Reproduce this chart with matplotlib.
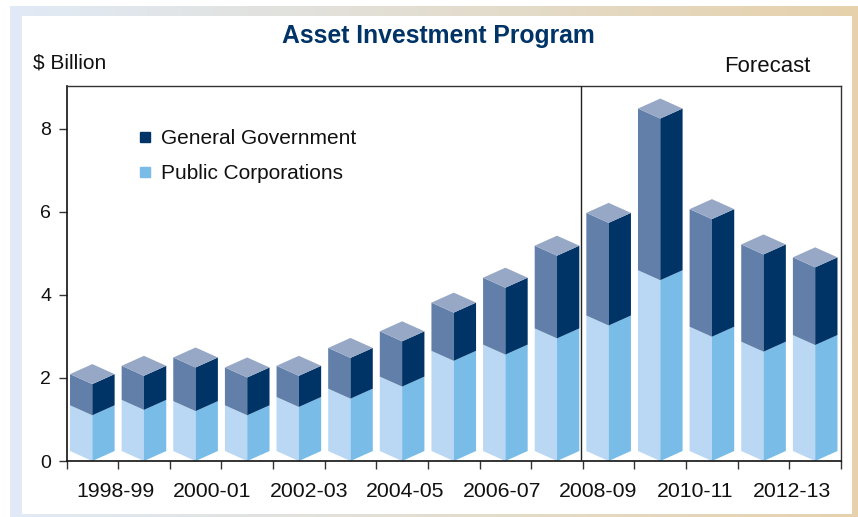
import matplotlib; matplotlib.use("Agg")
import matplotlib.pyplot as plt
from matplotlib.lines import Line2D
from matplotlib.patches import Rectangle
import numpy as np

W=858; H=517
NAVY="#003366"; NAVY_L="#617fa8"; SKY="#79bce8"; SKY_L="#bad8f3"; TOP="#97a8c6"
plt.rcParams["font.family"]=["Liberation Sans","DejaVu Sans"]

# every year has a bar, only every second one is labelled
public_corp=[1.10,1.23,1.20,1.10,1.30,1.50,1.79,2.41,2.56,2.95,3.26,4.35,2.99,2.63,2.79]
general_gov=[0.75,0.82,1.05,0.91,0.75,0.98,1.09,1.16,1.61,1.99,2.47,3.89,2.83,2.34,1.87]
year_labels=["1998-99","2000-01","2002-03","2004-05","2006-07","2008-09","2010-11","2012-13"]
y_ticks=[0,2,4,6,8]

fig=plt.figure(figsize=(W/100,H/100),dpi=100)

# ---- frame: blue to tan band round a white panel ----
bg=fig.add_axes([0,0,1,1]); bg.set_xlim(0,W); bg.set_ylim(H,0); bg.axis("off")
c0=np.array([0xe0,0xea,0xf6])/255; c1=np.array([0xe6,0xd1,0xab])/255
t=np.linspace(0,1,256)[:,None]
grad=(c0[None,:]*(1-t)+c1[None,:]*t)[None,:,:]
bg.imshow(grad,extent=[10,W,H,6],aspect="auto",zorder=1)
bg.set_xlim(0,W); bg.set_ylim(H,0)
bg.add_patch(Rectangle((22,16),830,498,fc="white",ec="none",zorder=2))

# ---- chart ----
ax=fig.add_axes([66.5/W,1-461/H,(841-66.5)/W,375/H]); ax.patch.set_alpha(0)
ax.set_xlim(0,15); ax.set_ylim(0,375/41.56)
hw=22.3/51.63   # half width of a column, in categories
dp=10/41.56     # rise of the diamond, in data units

def face(x0,x1,lo0,lo1,h,color,z):
    ax.fill([x0,x1,x1,x0],[lo0,lo1,lo1+h,lo0+h],color=color,lw=0,zorder=z)

pc=np.array(public_corp); gg=np.array(general_gov)
for i,(p,g) in enumerate(zip(pc,gg)):
    c=i+0.5
    # faces meet at the front edge, sides sit dp higher at the outside
    face(c-hw,c,dp,0,p,SKY_L,2); face(c,c+hw,0,dp,p,SKY,2)
    face(c-hw,c,p+dp,p,g,NAVY_L,2); face(c,c+hw,p,p+dp,g,NAVY,2)
    top=p+g
    ax.fill([c-hw,c,c+hw,c],[top+dp,top,top+dp,top+2*dp],color=TOP,lw=0,zorder=2)

ax.axvline(9.97,color="#222222",lw=1,zorder=3)
ax.set_xticks(range(16)); ax.set_xticklabels([])
ax.set_yticks(y_ticks); ax.set_yticklabels(y_ticks,fontsize=14)
ax.tick_params(axis="both",length=6,width=1,color="#333333",labelcolor="#111111",pad=5)
for s in ax.spines.values(): s.set_color("#333333"); s.set_linewidth(1)
ax.spines["left"].set_color("#111111"); ax.spines["bottom"].set_color("#111111")
ax.spines["left"].set_linewidth(1.2); ax.spines["bottom"].set_linewidth(1.2)

for i,lab in enumerate(year_labels):
    bg.text(116+i*96.5,491.5,lab,ha="center",va="center",fontsize=15.3,color="#111111",zorder=5)

handles=[Line2D([],[],marker="s",ls="none",ms=7.8,color=NAVY,label="General Government"),
         Line2D([],[],marker="s",ls="none",ms=7.8,color=SKY,label="Public Corporations")]
ax.legend(handles=handles,loc="upper left",bbox_to_anchor=(0.074,0.912),frameon=False,fontsize=15,
          handlelength=1,labelspacing=0.76,handletextpad=0.29,borderpad=0,labelcolor="#111111")

bg.text(438,35.5,"Asset Investment Program",ha="center",va="center",fontsize=17.8,fontweight="bold",color=NAVY,zorder=5)
bg.text(33,63,"$ Billion",ha="left",va="center",fontsize=15,color="#111111",zorder=5)
bg.text(724.5,66.5,"Forecast",ha="left",va="center",fontsize=15.9,color="#111111",zorder=5)

fig.savefig("out.png",dpi=100)
